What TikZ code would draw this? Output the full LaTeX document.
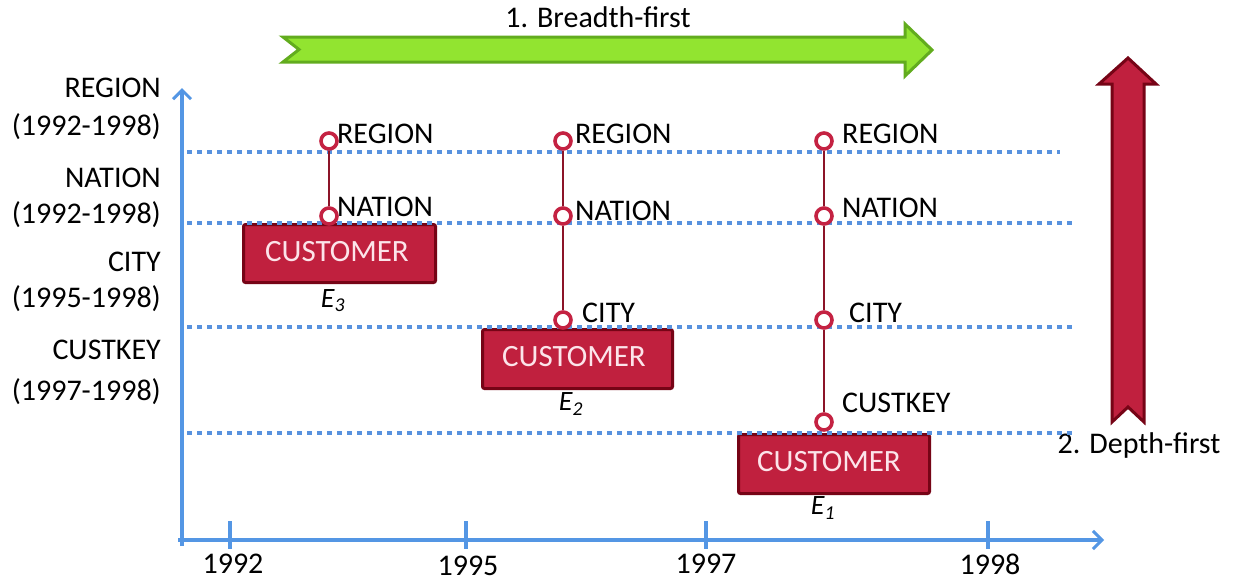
\documentclass[tikz,border=0pt]{standalone}
\usepackage{fontspec}
\setmainfont{Carlito}
\usetikzlibrary{arrows.meta}
\definecolor{axisblue}{RGB}{84,150,228}
\definecolor{dotblue}{RGB}{88,146,222}
\definecolor{crimson}{RGB}{192,32,62}
\definecolor{darkcrimson}{RGB}{118,4,22}
\definecolor{ringred}{RGB}{196,34,66}
\definecolor{linkred}{RGB}{140,20,40}
\definecolor{boxtext}{RGB}{252,228,234}
\definecolor{greenfill}{RGB}{146,228,48}
\definecolor{greenedge}{RGB}{98,172,30}
\tikzset{
  lbl/.style={font=\fontsize{30}{34}\selectfont, inner sep=0pt, text=black},
  axisline/.style={draw=axisblue, line width=4pt, -{Straight Barb[length=9pt,width=18pt,line width=3pt]}},
  tickline/.style={draw=axisblue, line width=4pt},
  levelline/.style={draw=dotblue, line width=4.5pt, dash pattern=on 5pt off 5pt},
  custbox/.style={draw=darkcrimson, fill=crimson, line width=3pt, rounded corners=2pt,
    minimum width=190pt, minimum height=57pt, inner sep=0pt, text=boxtext,
    font=\fontsize{30}{34}\selectfont},
  boxlabel/.style={text=boxtext, font=\fontsize{31}{34}\selectfont, inner sep=0pt},
  ring/.style={circle, draw=ringred, fill=white, line width=3.6pt, minimum size=16pt, inner sep=0pt},
  link/.style={draw=linkred, line width=2pt},
  elabel/.style={font=\fontsize{28}{32}\selectfont\itshape, inner sep=0pt},
  greenarrow/.style={draw=greenedge, fill=greenfill, line width=3pt, line join=miter},
  redarrow/.style={draw=darkcrimson, fill=crimson, line width=3pt, line join=miter}
}
\begin{document}
\begin{tikzpicture}[x=1pt,y=-1pt]
\useasboundingbox (0,0) rectangle (1238,582);
\fill[white] (0,0) rectangle (1238,582);

% big direction arrows
\draw[greenarrow] (283,37) -- (905,37) -- (905,24) -- (932,50) -- (905,76) -- (905,62) -- (283,62) -- (299,49.5) -- cycle;
\node[lbl] (bf) at (598,17) {1. Breadth-first};
\draw[redarrow] (1112,422) -- (1112,84) -- (1099,84) -- (1128,58) -- (1156,84) -- (1144,84) -- (1144,422) -- (1128,407) -- cycle;
\node[lbl] (df) at (1139,445) {2. Depth-first};

% left labels
\node[lbl, anchor=east] (lr1) at (161,88) {REGION};
\node[lbl, anchor=east] (lr2) at (161,127) {(1992-1998)};
\node[lbl, anchor=east] (ln1) at (161,178) {NATION};
\node[lbl, anchor=east] (ln2) at (161,215) {(1992-1998)};
\node[lbl, anchor=east] (lc1) at (161,262) {CITY};
\node[lbl, anchor=east] (lc2) at (161,299) {(1995-1998)};
\node[lbl, anchor=east] (lk1) at (161,350) {CUSTKEY};
\node[lbl, anchor=east] (lk2) at (161,392) {(1997-1998)};

% axes
\coordinate (o) at (182,540);
\coordinate (ytop) at (182,88);
\coordinate (xend) at (1104,540);
\draw[axisline] (182,546) -- (ytop);
\draw[axisline] (178,540) -- (xend);
\draw[tickline] (230,521) -- (230,549);
\draw[tickline] (466,521) -- (466,549);
\draw[tickline] (706,521) -- (706,549);
\draw[tickline] (988,521) -- (988,549);
\node[lbl] (t1) at (233,564) {1992};
\node[lbl] (t2) at (468,566) {1995};
\node[lbl] (t3) at (706,564) {1997};
\node[lbl] (t4) at (990,564) {1998};

% customer boxes
\node[custbox, anchor=north west, minimum width=192pt, minimum height=58pt] (c3) at (242,223) {};
\node[boxlabel] (c3t) at (337,252) {CUSTOMER};
\node[custbox, anchor=north west, minimum width=190pt, minimum height=59pt] (c2) at (481,328) {};
\node[boxlabel] (c2t) at (574,357) {CUSTOMER};
\node[custbox, anchor=north west, minimum width=191pt, minimum height=59pt] (c1) at (737,433) {};
\node[boxlabel] (c1t) at (829,462) {CUSTOMER};
\node[elabel] (e3) at (333,301) {E\textsubscript{3}};
\node[elabel] (e2) at (571,404) {E\textsubscript{2}};
\node[elabel] (e1) at (823,508) {E\textsubscript{1}};

% level lines
\draw[levelline] (187,152) -- (1060,152);
\draw[levelline] (187,223) -- (1075,223);
\draw[levelline] (187,327) -- (1075,327);
\draw[levelline] (187,433) -- (1075,433);

% column E3
\node[ring] (r3a) at (329,141) {};
\node[ring] (r3b) at (329,216) {};
\draw[link] (r3a) -- (r3b);
\node[lbl, anchor=west] (r3al) at (337,134) {REGION};
\node[lbl, anchor=west] (r3bl) at (337,207) {NATION};

% column E2
\node[ring] (r2a) at (563,141) {};
\node[ring] (r2b) at (563,216) {};
\node[ring] (r2c) at (563,320) {};
\draw[link] (r2a) -- (r2b);
\draw[link] (r2b) -- (r2c);
\node[lbl, anchor=west] (r2al) at (575,134) {REGION};
\node[lbl, anchor=west] (r2bl) at (575,211) {NATION};
\node[lbl, anchor=west] (r2cl) at (582,313) {CITY};

% column E1
\node[ring] (r1a) at (824,141) {};
\node[ring] (r1b) at (824,216) {};
\node[ring] (r1c) at (824,320) {};
\node[ring] (r1d) at (824,422) {};
\draw[link] (r1a) -- (r1b);
\draw[link] (r1b) -- (r1c);
\draw[link] (r1c) -- (r1d);
\node[lbl, anchor=west] (r1al) at (842,134) {REGION};
\node[lbl, anchor=west] (r1bl) at (842,208) {NATION};
\node[lbl, anchor=west] (r1cl) at (849,313) {CITY};
\node[lbl, anchor=west] (r1dl) at (842,403) {CUSTKEY};
\end{tikzpicture}
\end{document}
